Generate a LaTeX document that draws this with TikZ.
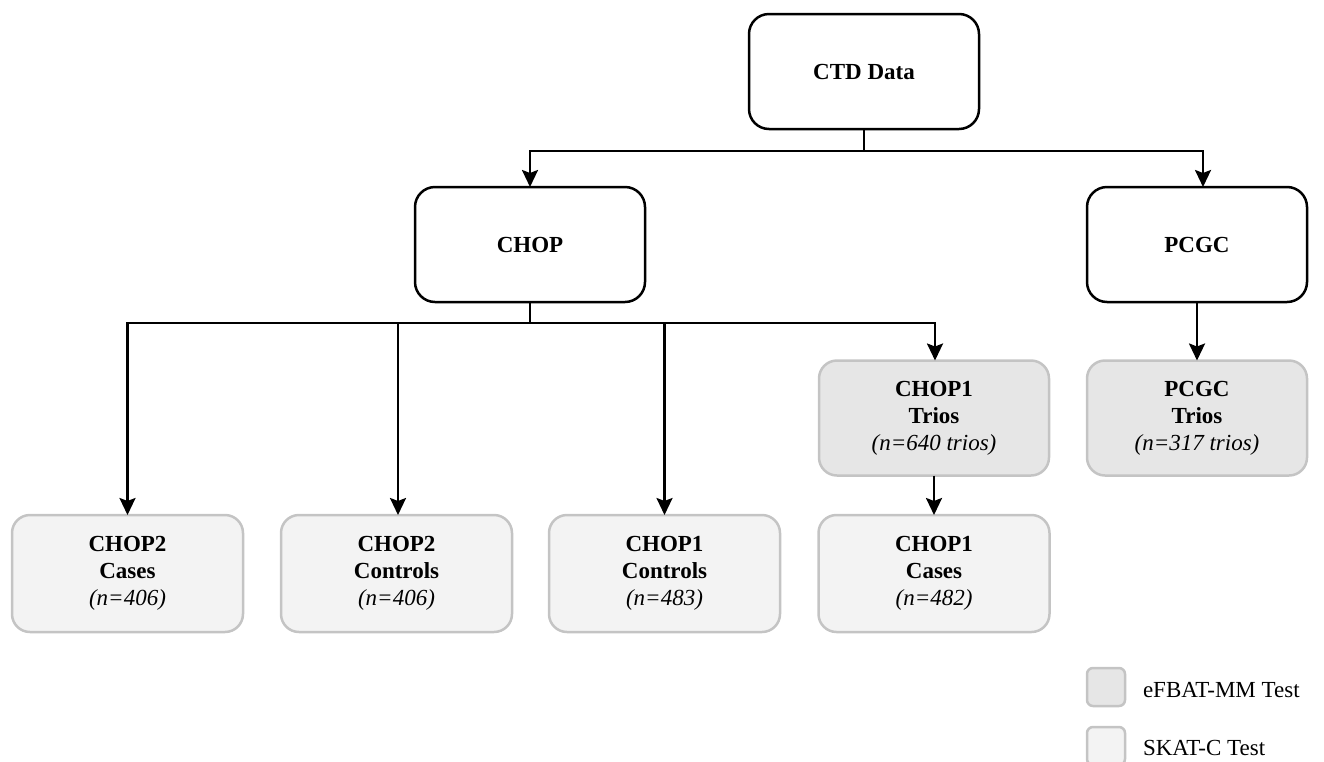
\documentclass[tikz,border=0pt]{standalone}
\usepackage{fontspec}
\setmainfont{Liberation Serif}
\usetikzlibrary{arrows.meta}
\definecolor{darkfill}{HTML}{E6E6E6}
\definecolor{lightfill}{HTML}{F3F3F3}
\definecolor{greyedge}{HTML}{C4C4C4}
\begin{document}
\begin{tikzpicture}[x=1pt,y=-1pt,
  every node/.style={inner sep=0pt,outer sep=0pt,font=\fontsize{23}{27}\selectfont},
  topbox/.style={draw=black,line width=2.5pt,rounded corners=20pt,fill=white,minimum width=230pt,minimum height=115pt,font=\fontsize{23}{27}\selectfont\bfseries,align=center},
  darkbox/.style={draw=greyedge,line width=2.5pt,rounded corners=18pt,fill=darkfill,minimum width=230pt,minimum height=115pt,align=center},
  lightbox/.style={draw=greyedge,line width=2.5pt,rounded corners=18pt,fill=lightfill,minimum width=231pt,minimum height=117pt,align=center},
  conn/.style={draw=black,line width=2.5pt},
  arr/.style={conn,-{Stealth[length=17pt,width=16pt,inset=3pt]}},
  legdark/.style={draw=greyedge,line width=2.5pt,rounded corners=6pt,fill=darkfill,minimum size=38pt},
  leglight/.style={draw=greyedge,line width=2.5pt,rounded corners=6pt,fill=lightfill,minimum size=38pt},
  legtext/.style={anchor=west,font=\fontsize{23}{27}\selectfont}
]
\clip (0,0) rectangle (1324,761);
\useasboundingbox (0,0) rectangle (1324,761);

\node[topbox] (ctd) at (864,71.5) {CTD Data};
\node[topbox] (chop) at (530,244.5) {CHOP};
\node[topbox,minimum width=220pt] (pcgc) at (1197,244.5) {PCGC};

\node[darkbox] (trios1) at (934,418) {\textbf{CHOP1}\\\textbf{Trios}\\\textit{(n=640 trios)}};
\node[darkbox,minimum width=220pt] (triosp) at (1197,418) {\textbf{PCGC}\\\textbf{Trios}\\\textit{(n=317 trios)}};

\node[lightbox] (c2cases) at (127.5,573.5) {\textbf{CHOP2}\\\textbf{Cases}\\\textit{(n=406)}};
\node[lightbox] (c2ctrl) at (396.5,573.5) {\textbf{CHOP2}\\\textbf{Controls}\\\textit{(n=406)}};
\node[lightbox] (c1ctrl) at (664.5,573.5) {\textbf{CHOP1}\\\textbf{Controls}\\\textit{(n=483)}};
\node[lightbox] (c1cases) at (934,573.5) {\textbf{CHOP1}\\\textbf{Cases}\\\textit{(n=482)}};

\coordinate (j1) at (864,151);
\coordinate (j2) at (530,323);

\draw[conn] (ctd.south) -- (j1);
\draw[arr] (j1) -| (chop.north);
\draw[arr] (j1) -| ([xshift=6pt]pcgc.north);
\draw[conn] (chop.south) -- (j2);
\draw[arr] (j2) -| (c2cases.north);
\draw[arr] (j2) -| ([xshift=1.5pt]c2ctrl.north);
\draw[arr] (j2) -| (c1ctrl.north);
\draw[arr] (j2) -| ([xshift=1pt]trios1.north);
\draw[arr] (pcgc.south) -- (triosp.north);
\draw[arr] (trios1.south) -- (c1cases.north);

\node[legdark] (legd) at (1106,687) {};
\node[leglight] (legl) at (1106,746) {};
\node[legtext] (legdt) at (1143,690) {eFBAT-MM Test};
\node[legtext] (leglt) at (1143,748) {SKAT-C Test};
\end{tikzpicture}
\end{document}
